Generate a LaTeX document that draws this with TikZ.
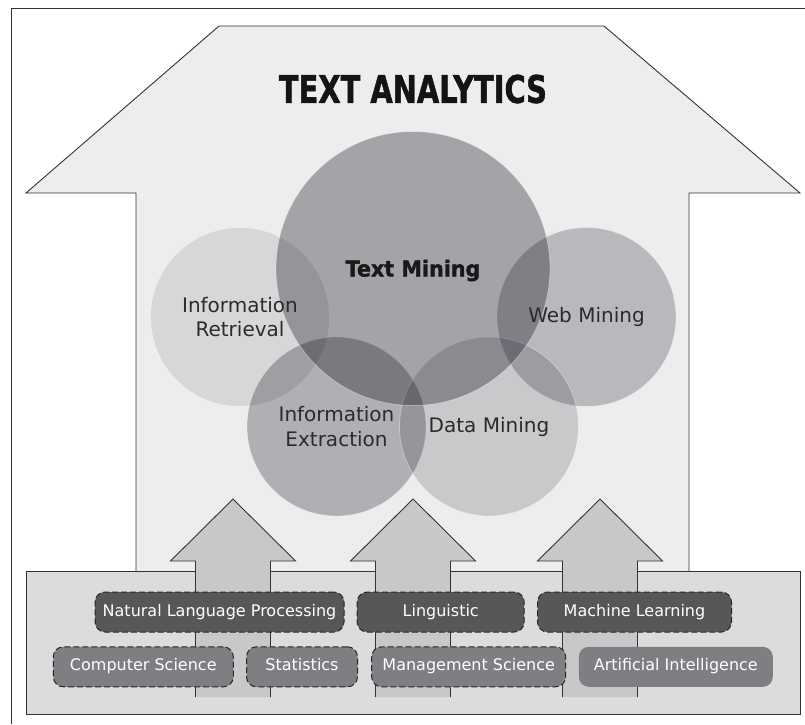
\documentclass[tikz,border=0pt]{standalone}
\usepackage{fontspec}
\setmainfont{DejaVu Sans}
\newfontfamily\heavyfont[FakeBold=1.6]{DejaVu Sans Bold}
\usepackage{graphicx}

\definecolor{housegray}{HTML}{EDEDED}
\definecolor{boxgray}{HTML}{DCDCDD}
\definecolor{arrowgray}{HTML}{C8C8C9}
\definecolor{tagdark}{HTML}{575759}
\definecolor{tagmid}{HTML}{7E7F82}
\definecolor{inkgray}{HTML}{2B2B2B}
\definecolor{edgegray}{HTML}{333333}
\definecolor{vennink}{RGB}{0,2,14}

\tikzset{
  venn/.style={circle, minimum size=179pt, inner sep=0pt, fill=vennink,
    draw=white, draw opacity=0.35, line width=0.8pt},
  vennlbl/.style={font=\fontsize{20}{24.5}\selectfont, text=inkgray, align=center},
  tagbox/.style={rounded corners=10pt, minimum height=40pt, inner sep=0pt,
    text=white, text height=11.7pt, text depth=3.4pt, font=\fontsize{16}{19}\selectfont},
  tagdash/.style={tagbox, draw=black!85, dash pattern=on 6pt off 3pt, line width=1pt},
}

\begin{document}
\begin{tikzpicture}[x=1pt, y=-1pt]
    \useasboundingbox (0,0) rectangle (805,724);

    % outer frame (open to the right and bottom)
    \draw[edgegray, line width=1pt] (805,8) -- (11,8) -- (11,724);

    % big house-shaped arrow
    \fill[housegray] (136,571) -- (136,193) -- (26,193) -- (219,26)
        -- (604,26) -- (800,193) -- (689,193) -- (689,571) -- cycle;
    \draw[edgegray, line width=0.9pt] (136,571) -- (136,193) -- (26,193) -- (219,26)
        -- (604,26) -- (800,193) -- (689,193) -- (689,571);
    \node[font=\fontsize{38}{40}\heavyfont, text=black!92, text height=27.7pt,
        text depth=0pt, inner sep=0pt] (title) at (413,89) {\scalebox{0.76}[1]{TEXT ANALYTICS}};

    % overlapping circles
    \node[venn, fill opacity=0.09] (irc) at (240,317) {};
    \node[venn, fill opacity=0.22] (wmc) at (586.5,317) {};
    \node[venn, fill opacity=0.26] (iec) at (336.5,426.5) {};
    \node[venn, fill opacity=0.15] (dmc) at (489,426.5) {};
    \node[venn, minimum size=274pt, fill opacity=0.31] (tmc) at (413,268.5) {};

    % circle labels
    \node[font=\fontsize{22}{24}\heavyfont, text=black!90, text height=16pt,
        text depth=0pt, inner sep=0pt] (tm) at (tmc) {\scalebox{0.94}[1]{Text Mining}};
    \node[vennlbl] (ir) at (irc) {Information\\Retrieval};
    \node[vennlbl] (wm) at (wmc) {Web Mining};
    \node[vennlbl] (ie) at (iec) {Information\\Extraction};
    \node[vennlbl] (dm) at (dmc) {Data Mining};

    % base panel
    \draw[edgegray, line width=0.9pt, fill=boxgray] (26,571) rectangle (800,714);

    % three small arrows pointing up
    \foreach \cx in {233,413,600} {
        \fill[arrowgray] ({\cx-37.5},697) -- ({\cx-37.5},561) -- ({\cx-62.5},561) -- (\cx,499)
            -- ({\cx+62.5},561) -- ({\cx+37.5},561) -- ({\cx+37.5},697) -- cycle;
        \draw[edgegray, line width=0.9pt] ({\cx-37.5},697) -- ({\cx-37.5},561) -- ({\cx-62.5},561)
            -- (\cx,499) -- ({\cx+62.5},561) -- ({\cx+37.5},561) -- ({\cx+37.5},697);
    }

    % disciplines, upper row
    \node[tagdash, fill=tagdark, minimum width=249pt] (nlp) at (219.5,612) {Natural Language Processing};
    \node[tagdash, fill=tagdark, minimum width=167pt] (ling) at (440.7,612) {Linguistic};
    \node[tagdash, fill=tagdark, minimum width=194pt] (ml) at (634.5,612) {Machine Learning};

    % disciplines, lower row
    \node[tagdash, fill=tagmid, minimum width=180pt] (cs) at (143.3,666.8) {Computer Science};
    \node[tagdash, fill=tagmid, minimum width=111pt] (stat) at (302,666.8) {Statistics};
    \node[tagdash, fill=tagmid, minimum width=194pt] (mgmt) at (468.7,666.8) {Management Science};
    \node[tagbox, fill=tagmid, minimum width=194pt] (ai) at (675.8,666.8) {Artificial Intelligence};
\end{tikzpicture}
\end{document}
